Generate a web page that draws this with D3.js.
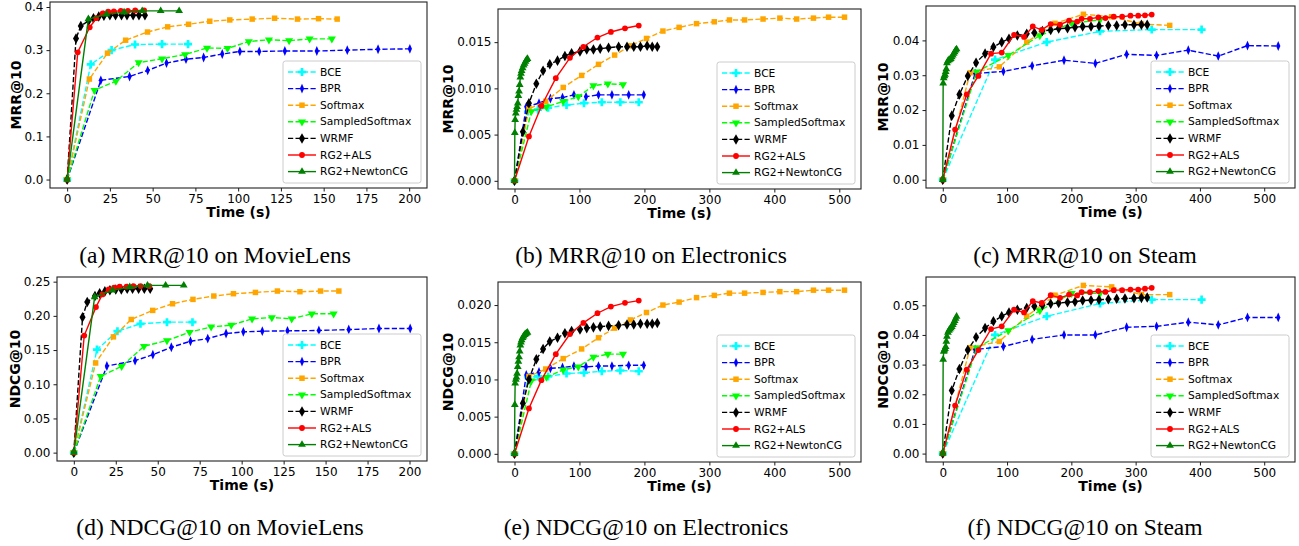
<!DOCTYPE html>
<html><head><meta charset="utf-8">
<script src="https://cdn.jsdelivr.net/npm/d3@7"></script>
<style>body{margin:0;background:#fff}svg{display:block}</style>
</head><body>
<svg id="chart" width="1299" height="546"></svg>
<script>
// ---------- data ----------
const seriesNames = ["BCE","BPR","Softmax","SampledSoftmax","WRMF","RG2+ALS","RG2+NewtonCG"];

// shared time stamps (s) per dataset, one array per series
const mlTimes = [
  [0,13.8,26,39.7,55.5,70.7],
  [0,19.7,36.5,47.1,58.1,69.5,79.8,90.7,101,112.3,127.3,146,163.8,181.8,200.4],
  [0,13,23.6,34.2,47,58.8,71,83.4,95.1,108.2,121.3,134.7,147,157.9],
  [0,16,28.5,41.8,55.5,69,81.8,93.8,106.2,118,129.8,141.8,154.8],
  [0,5.2,8,12.6,15.4,18.5,21.5,25,28.3,31.8,35,38.6,42,45.5],
  [0,6.2,13.2,17,20.8,24,27.3,31.4,35.5,39.8,45],
  [0,12.4,23,33.3,43.9,54.7,65.5]
];
const elTimes = [
  [0,20.7,36.2,51.7,80.1,107,134.4,162.9,191.3],
  [0,18.1,37.7,55.3,73.9,91.5,110.1,129.3,150,175.8,199],
  [0,22.2,48.1,75,103.4,129.3,154.1,178.4,203.2,228.5,253.4,280.2,307.6,330.9,354.2,382.6,408.5,434.3,460.2,483.5,508],
  [0,25.9,49.1,75,98.2,121.5,143.7,167],
  [0,12.9,22.2,33.6,44,54.3,66.2,77.6,87.9,100.8,111.2,121.5,131.9,144.8,160.3,173.2,183.6,193.9,204.2,212,219.8],
  [0,22.2,41.4,63.6,85.3,106,127.7,148.4,170.1,191.3],
  [0,0.5,1,2,3,4,5,6,7,8,9,10,11,12.5,14,15.5,17,18.5,20]
];
const stTimes = [
  [0,81.3,161.7,244.6,325,402.6],
  [0,50.3,94.3,139,188.6,237.3,286,332.6,381.9,428.5,474,521.8],
  [0,42.5,88,130.6,174.6,218.7,262.7,309,353],
  [0,52.8,102,151,200.5,244.6],
  [0,14,25.9,38.9,51.8,65.8,78.8,91.7,103,116,130.6,142.5,155,167.9,180.3,194,205.7,217.6,230.6,243,257.5,270.5,283.4,297.4,309,318],
  [0,19.2,37.3,55.4,75.1,91.7,110.9,126.4,140,153.9,167.9,182.4,196.4,209,216,229,242,253,266,279,292,304,314.5,325],
  [0,0.6,1.5,2.5,3.5,4.5,5.5,6.5,8,9.5,11,12.5,14,15.5,17,18.5,20,21.5]
];

const mrrMovieLens = [
  [0,0.267,0.300,0.313,0.314,0.314],
  [0,0.230,0.239,0.253,0.270,0.279,0.283,0.291,0.297,0.297,0.298,0.298,0.300,0.302,0.303],
  [0,0.233,0.293,0.323,0.342,0.354,0.360,0.367,0.370,0.372,0.374,0.372,0.373,0.372],
  [0,0.207,0.228,0.271,0.280,0.290,0.305,0.304,0.320,0.324,0.322,0.326,0.326],
  [0,0.327,0.356,0.368,0.374,0.378,0.380,0.381,0.381,0.381,0.381,0.381,0.381,0.381],
  [0,0.295,0.353,0.374,0.385,0.389,0.390,0.391,0.391,0.392,0.392],
  [0,0.372,0.383,0.388,0.391,0.391,0.391]
];
const mrrElectronics = [
  [0,0.0075,0.0077,0.0079,0.0082,0.0084,0.0085,0.0085,0.0085],
  [0,0.0080,0.0084,0.0089,0.0090,0.0093,0.0091,0.0093,0.0093,0.0093,0.0093],
  [0,0.0078,0.0086,0.0101,0.0114,0.0126,0.0136,0.0146,0.0154,0.0162,0.0166,0.0170,0.0172,0.0174,0.0174,0.0175,0.0176,0.0175,0.0176,0.0177,0.0177],
  [0,0.0075,0.0080,0.0086,0.0091,0.0103,0.0105,0.0104],
  [0,0.0053,0.0084,0.0105,0.0119,0.0126,0.0130,0.0135,0.0138,0.0140,0.0142,0.0142,0.0143,0.0144,0.0145,0.0145,0.0145,0.0145,0.0146,0.0145,0.0145],
  [0,0.0048,0.0081,0.0111,0.0133,0.0145,0.0155,0.0161,0.0165,0.0168],
  [0,0.0052,0.0066,0.0073,0.0077,0.0080,0.0084,0.0092,0.0097,0.0104,0.0112,0.0116,0.0119,0.0122,0.0125,0.0127,0.0129,0.0131,0.0132]
];
const mrrSteam = [
  [0,0.0345,0.0395,0.0426,0.0431,0.0431],
  [0,0.0305,0.0311,0.0327,0.0343,0.0334,0.0360,0.0357,0.0372,0.0355,0.0385,0.0384],
  [0,0.0307,0.0324,0.0395,0.0449,0.0475,0.0468,0.0447,0.0443],
  [0,0.0310,0.0357,0.0414,0.0449,0.0459],
  [0,0.0184,0.0245,0.0298,0.0336,0.0362,0.0381,0.0395,0.0405,0.0414,0.0419,0.0422,0.0427,0.0430,0.0434,0.0435,0.0438,0.0440,0.0440,0.0441,0.0443,0.0443,0.0445,0.0445,0.0445,0.0445],
  [0,0.0144,0.0245,0.0298,0.0362,0.0365,0.0416,0.0410,0.0440,0.0430,0.0447,0.0445,0.0457,0.0454,0.0462,0.0462,0.0466,0.0464,0.0468,0.0468,0.0471,0.0471,0.0472,0.0474],
  [0,0.0277,0.0292,0.0298,0.0302,0.0310,0.0318,0.0335,0.0341,0.0344,0.0345,0.0347,0.0352,0.0357,0.0362,0.0367,0.0372,0.0375]
];
const ndcgMovieLens = [
  [0,0.1507,0.1776,0.1884,0.1908,0.1908],
  [0,0.1267,0.1345,0.1433,0.1541,0.1629,0.1668,0.1742,0.1766,0.1776,0.1781,0.1786,0.1800,0.1815,0.1815],
  [0,0.1311,0.1693,0.1947,0.2080,0.2177,0.2241,0.2290,0.2324,0.2343,0.2363,0.2353,0.2363,0.2363],
  [0,0.1115,0.1262,0.1556,0.1639,0.1761,0.1839,0.1864,0.1957,0.1976,0.1957,0.2030,0.2030],
  [0,0.1981,0.2202,0.2290,0.2329,0.2358,0.2373,0.2387,0.2387,0.2397,0.2397,0.2397,0.2397,0.2397],
  [0,0.1712,0.2128,0.2314,0.2387,0.2412,0.2427,0.2427,0.2436,0.2436,0.2436],
  [0,0.2275,0.2373,0.2422,0.2446,0.2446,0.2446]
];
const ndcgElectronics = [
  [0,0.0103,0.0104,0.0104,0.0108,0.0109,0.0111,0.0112,0.0111],
  [0,0.0106,0.0110,0.0115,0.0116,0.0118,0.0117,0.0118,0.0118,0.0119,0.0119],
  [0,0.0104,0.0114,0.0128,0.0141,0.0156,0.0169,0.0180,0.0190,0.0200,0.0204,0.0210,0.0213,0.0216,0.0216,0.0217,0.0218,0.0218,0.0220,0.0220,0.0220],
  [0,0.0098,0.0103,0.0113,0.0117,0.0130,0.0134,0.0134],
  [0,0.0068,0.0100,0.0127,0.0141,0.0151,0.0156,0.0162,0.0165,0.0167,0.0169,0.0170,0.0171,0.0172,0.0173,0.0174,0.0174,0.0175,0.0175,0.0175,0.0176],
  [0,0.0061,0.0099,0.0134,0.0161,0.0176,0.0189,0.0198,0.0203,0.0206],
  [0,0.0066,0.0095,0.0100,0.0103,0.0108,0.0117,0.0124,0.0130,0.0138,0.0146,0.0150,0.0153,0.0156,0.0158,0.0160,0.0161,0.0162,0.0163]
];
const ndcgSteam = [
  [0,0.0400,0.0463,0.0506,0.0519,0.0519],
  [0,0.0351,0.0361,0.0385,0.0400,0.0400,0.0426,0.0429,0.0443,0.0434,0.0459,0.0459],
  [0,0.0357,0.0378,0.0463,0.0534,0.0567,0.0562,0.0536,0.0536],
  [0,0.0357,0.0415,0.0482,0.0540,0.0540],
  [0,0.0213,0.0285,0.0349,0.0392,0.0423,0.0446,0.0463,0.0476,0.0485,0.0491,0.0497,0.0500,0.0505,0.0508,0.0510,0.0512,0.0516,0.0517,0.0519,0.0520,0.0522,0.0523,0.0524,0.0525,0.0526],
  [0,0.0162,0.0283,0.0349,0.0420,0.0429,0.0485,0.0476,0.0514,0.0508,0.0534,0.0525,0.0536,0.0533,0.0544,0.0544,0.0548,0.0545,0.0551,0.0551,0.0553,0.0553,0.0556,0.0559],
  [0,0.0317,0.0344,0.0348,0.0353,0.0360,0.0378,0.0395,0.0408,0.0415,0.0419,0.0423,0.0428,0.0434,0.0441,0.0448,0.0455,0.0462]
];

// tick labels
const mlXTicks = [0,25,50,75,100,125,150,175,200];
const bigXTicks = [0,100,200,300,400,500];
const mrrMlYTicks = [0,0.1,0.2,0.3,0.4];
const mrrElYTicks = [0,0.005,0.010,0.015];
const mrrStYTicks = [0,0.01,0.02,0.03,0.04];
const ndcgMlYTicks = [0,0.05,0.10,0.15,0.20,0.25];
const ndcgElYTicks = [0,0.005,0.010,0.015,0.020];
const ndcgStYTicks = [0,0.01,0.02,0.03,0.04,0.05];

// ---------- styles ----------
const colors = ["#00ffff","#0000ff","#ffa500","#00ff00","#000000","#ff0000","#008000"];
const dashed = [true,true,true,true,true,false,false];
const markerDefs = [
  {type:d3.symbolCross, size:36, rot:0, sx:1},
  {type:d3.symbolDiamond, size:28, rot:0, sx:0.75},
  {type:d3.symbolSquare, size:30, rot:0, sx:1},
  {type:d3.symbolTriangle, size:28, rot:180, sx:1},
  {type:d3.symbolDiamond, size:32, rot:0, sx:1},
  {type:d3.symbolCircle, size:26, rot:0, sx:1},
  {type:d3.symbolTriangle, size:26, rot:0, sx:1}
];

const panels = [
  {times:mlTimes, values:mrrMovieLens, xt:mlXTicks, yt:mrrMlYTicks, fmt:".1f", ylabel:"MRR@10",
   caption:"(a) MRR@10 on MovieLens", box:[50,2,427,188], ylx:16, cx:215, cy:263},
  {times:elTimes, values:mrrElectronics, xt:bigXTicks, yt:mrrElYTicks, fmt:".3f", ylabel:"MRR@10",
   caption:"(b) MRR@10 on Electronics", box:[498,9,861,189], ylx:448, cx:651, cy:263},
  {times:stTimes, values:mrrSteam, xt:bigXTicks, yt:mrrStYTicks, fmt:".2f", ylabel:"MRR@10",
   caption:"(c) MRR@10 on Steam", box:[926,6,1295,188], ylx:883, cx:1085, cy:263},
  {times:mlTimes, values:ndcgMovieLens, xt:mlXTicks, yt:ndcgMlYTicks, fmt:".2f", ylabel:"NDCG@10",
   caption:"(d) NDCG@10 on MovieLens", box:[57,277,427,461], ylx:15, cx:220, cy:535},
  {times:elTimes, values:ndcgElectronics, xt:bigXTicks, yt:ndcgElYTicks, fmt:".3f", ylabel:"NDCG@10",
   caption:"(e) NDCG@10 on Electronics", box:[498,282,861,462], ylx:448, cx:646, cy:535},
  {times:stTimes, values:ndcgSteam, xt:bigXTicks, yt:ndcgStYTicks, fmt:".2f", ylabel:"NDCG@10",
   caption:"(f) NDCG@10 on Steam", box:[926,277,1295,462], ylx:883, cx:1085, cy:535}
];

const svg = d3.select("#chart");
const FONT = "'DejaVu Sans', sans-serif";

function symPath(i){ return d3.symbol().type(markerDefs[i].type).size(markerDefs[i].size)(); }
function symTransform(i,x,y){
  const m = markerDefs[i];
  return `translate(${x},${y}) rotate(${m.rot}) scale(${m.sx},1)`;
}

panels.forEach(p => {
  const [L,T,R,B] = p.box;
  const g = svg.append("g");
  const allT = p.times.flat(), allV = p.values.flat();
  const tMin = d3.min(allT), tMax = d3.max(allT), vMin = d3.min(allV), vMax = d3.max(allV);
  const tr = tMax - tMin, vr = vMax - vMin;
  const x = d3.scaleLinear().domain([tMin - 0.05*tr, tMax + 0.05*tr]).range([L,R]);
  const y = d3.scaleLinear().domain([vMin - 0.05*vr, vMax + 0.05*vr]).range([B,T]);

  // axes
  const xa = g.append("g").attr("transform",`translate(0,${B})`)
    .call(d3.axisBottom(x).tickValues(p.xt).tickFormat(d3.format("d")).tickSize(3.5).tickPadding(2.5));
  const ya = g.append("g").attr("transform",`translate(${L},0)`)
    .call(d3.axisLeft(y).tickValues(p.yt).tickFormat(d3.format(p.fmt)).tickSize(3.5).tickPadding(3));
  [xa,ya].forEach(a => {
    a.select(".domain").remove();
    a.selectAll("text").attr("font-family",FONT).attr("font-size",12).attr("fill","#000");
    a.selectAll("line").attr("stroke","#000").attr("stroke-width",0.9);
  });

  // series
  p.values.forEach((vals,i) => {
    const pts = vals.map((v,k) => [p.times[i][k], v]);
    g.append("path").datum(pts)
      .attr("d", d3.line().x(d=>x(d[0])).y(d=>y(d[1])))
      .attr("fill","none").attr("stroke",colors[i]).attr("stroke-width",1.4)
      .attr("stroke-dasharray", dashed[i] ? "5.2,2.3" : null);
    g.append("g").selectAll("path").data(pts).join("path")
      .attr("d", symPath(i))
      .attr("transform", d => symTransform(i, x(d[0]), y(d[1])))
      .attr("fill", colors[i]);
  });

  // frame
  g.append("rect").attr("x",L).attr("y",T).attr("width",R-L).attr("height",B-T)
    .attr("fill","none").attr("stroke","#222").attr("stroke-width",1.1);

  // labels
  g.append("text").attr("x",(L+R)/2).attr("y",B+29).attr("text-anchor","middle")
    .attr("font-family",FONT).attr("font-weight","bold").attr("font-size",14).text("Time (s)");
  g.append("text").attr("transform",`translate(${p.ylx},${(T+B)/2}) rotate(-90)`)
    .attr("text-anchor","middle").attr("dominant-baseline","central")
    .attr("font-family",FONT).attr("font-weight","bold").attr("font-size",14).text(p.ylabel);
  g.append("text").attr("x",p.cx).attr("y",p.cy).attr("text-anchor","middle")
    .attr("font-family","'Liberation Serif','Times New Roman',serif").attr("font-size",23.5)
    .attr("fill","#000").text(p.caption);

  // legend
  const lw = 138, lh = 122;
  const lx = R - 6 - lw, ly = B - 5 - lh;
  const lg = g.append("g").attr("transform",`translate(${lx},${ly})`);
  lg.append("rect").attr("width",lw).attr("height",lh).attr("rx",2.5)
    .attr("fill","#fff").attr("fill-opacity",0.85).attr("stroke","#cccccc").attr("stroke-width",1);
  seriesNames.forEach((name,i) => {
    const cy = 11 + i*16.6;
    lg.append("line").attr("x1",5).attr("x2",33).attr("y1",cy).attr("y2",cy)
      .attr("stroke",colors[i]).attr("stroke-width",1.4)
      .attr("stroke-dasharray", dashed[i] ? "5.2,2.3" : null);
    lg.append("path").attr("d",symPath(i)).attr("transform",symTransform(i,19,cy)).attr("fill",colors[i]);
    lg.append("text").attr("x",37).attr("y",cy).attr("dominant-baseline","central")
      .attr("font-family",FONT).attr("font-size",10.7).attr("fill","#000").text(name);
  });
});
</script>
</body></html>
